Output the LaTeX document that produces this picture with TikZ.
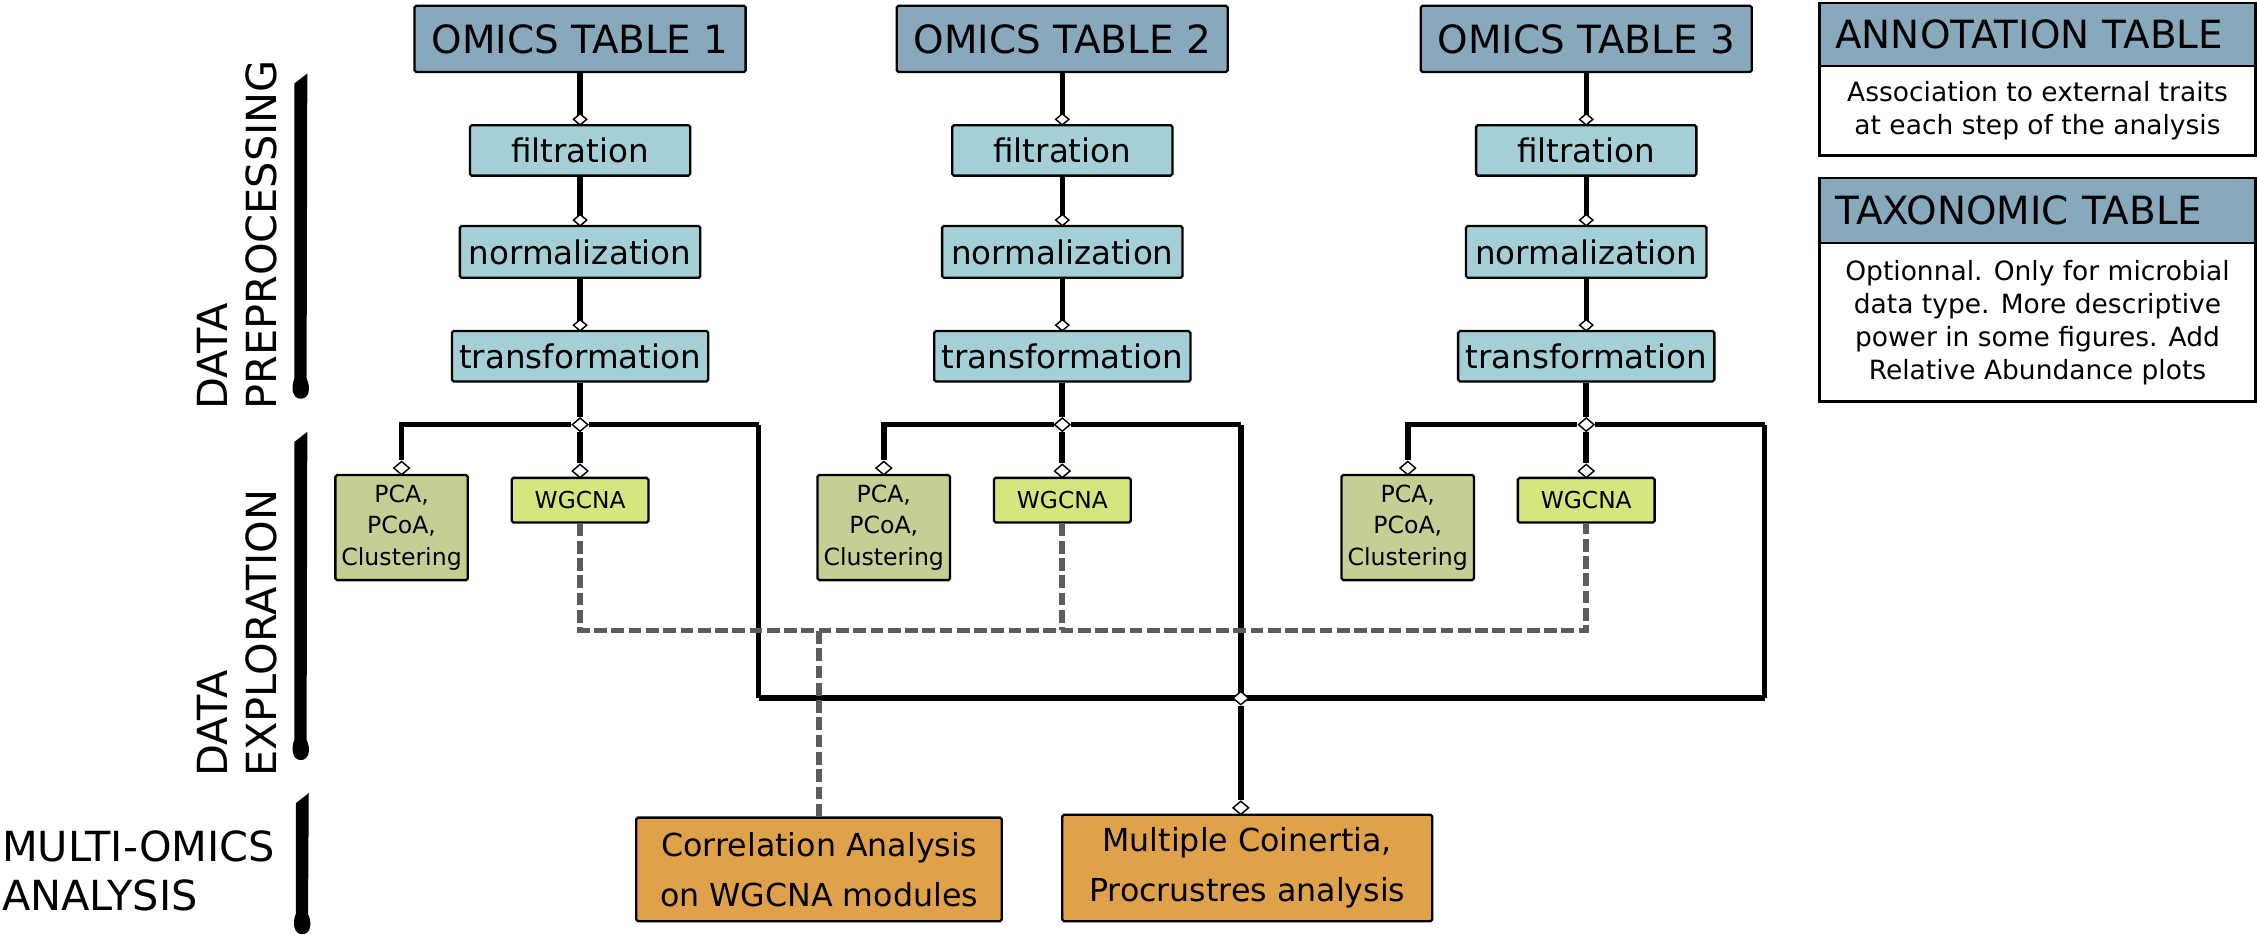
\documentclass[tikz,border=0pt]{standalone}
\usepackage{fontspec}
\setmainfont{DejaVu Sans}
\usetikzlibrary{shapes.geometric}
\definecolor{omicsc}{HTML}{87A9BB}
\definecolor{prepc}{HTML}{A5CFD6}
\definecolor{pcac}{HTML}{C4CF94}
\definecolor{wgc}{HTML}{D4E67E}
\definecolor{orc}{HTML}{DFA14A}
\definecolor{dashc}{HTML}{5C5C5C}
\newcommand\brushstroke[3]{%
  \fill ({#1-4.5},{#2+7}) -- ({#1+4.5},{#2}) -- ({#1+4},{#3-14})
    .. controls ({#1+7},{#3-8}) and ({#1+6},{#3}) .. ({#1},{#3})
    .. controls ({#1-6},{#3}) and ({#1-7},{#3-8}) .. ({#1-4.5},{#3-14}) -- cycle;}
\begin{document}
\begin{tikzpicture}[x=0.5pt,y=-0.5pt,
  box/.style={draw=black, line width=0.8pt, inner sep=0pt, align=center, rounded corners=0.6pt},
  omicsbox/.style={box, fill=omicsc, minimum width=115pt, minimum height=23pt, font=\fontsize{13.5}{16}\selectfont},
  prepbox/.style={box, fill=prepc, minimum height=17.5pt, font=\fontsize{11.3}{13}\selectfont},
  pcabox/.style={box, fill=pcac, minimum width=46pt, minimum height=36.5pt, font=\fontsize{8.2}{11}\selectfont},
  wgbox/.style={box, fill=wgc, minimum width=47.5pt, minimum height=15.5pt, font=\fontsize{8.1}{10}\selectfont},
  orbox/.style={box, fill=orc, minimum width=127pt, minimum height=36pt, font=\fontsize{11}{17.5}\selectfont},
  dmd/.style={diamond, draw=black, fill=white, line width=0.5pt, inner sep=0pt, minimum width=5.6pt, minimum height=4.8pt},
  sdmd/.style={dmd, minimum width=4.8pt, minimum height=4.1pt},
  link/.style={line width=1.9pt},
  tlink/.style={line width=2.1pt},
  dashlink/.style={draw=dashc, line width=2pt, dash pattern=on 4.4pt off 1.6pt},
  lab/.style={font=\fontsize{14.4}{17}\selectfont, align=left, inner sep=0pt},
  tabhead/.style={box, rounded corners=0pt, fill=omicsc, text width=140.5pt, inner xsep=5.5pt, align=left, font=\fontsize{13.5}{16}\selectfont},
  tabbody/.style={box, rounded corners=0pt, fill=white, minimum width=151.5pt, font=\fontsize{9.2}{11.5}\selectfont}]
\useasboundingbox (0,0) rectangle (1568,649.6);

% left labels and brush strokes
\node[lab, rotate=90, anchor=west] (lpre) at (165,285) {DATA\\PREPROCESSING};
\node[lab, rotate=90, anchor=west] (lexp) at (165,540) {DATA\\EXPLORATION};
\node[lab, anchor=west] (lmul) at (1,605) {MULTI-OMICS\\ANALYSIS};
\brushstroke{209}{51}{277}
\brushstroke{209}{300}{528}
\brushstroke{210}{551}{649}

% columns
\foreach \i/\cx in {1/403,2/738,3/1102}{
  \node[omicsbox] (o\i) at (\cx,27) {OMICS TABLE \i};
  \node[prepbox, minimum width=76.5pt] (f\i) at (\cx,104.5) {filtration};
  \node[prepbox, minimum width=83.5pt, minimum height=18pt] (n\i) at (\cx,175) {normalization};
  \node[prepbox, minimum width=89pt] (t\i) at (\cx,247.5) {transformation};
  \node[pcabox] (p\i) at ({\cx-124},366.5) {PCA,\\PCoA,\\Clustering};
  \node[wgbox] (w\i) at (\cx,347.5) {WGCNA};
  \coordinate (l\i) at ({\cx-124},295);
  \coordinate (r\i) at ({\cx+124},295);
  \coordinate (b\i) at ({\cx+124},485);
  \draw[link] (o\i) -- (f\i);
  \draw[link] (f\i) -- (n\i);
  \draw[link] (n\i) -- (t\i);
  \draw[link] (r\i) -- (b\i);
  \node[sdmd] (d1\i) at (\cx,82.9) {};
  \node[sdmd] (d2\i) at (\cx,152.9) {};
  \node[sdmd] (d3\i) at (\cx,225.9) {};
  \node[dmd] (j\i) at (\cx,295) {};
  \node[dmd] (dp\i) at ({\cx-124},325.2) {};
  \node[dmd] (dw\i) at (\cx,327.2) {};
  \draw[tlink] (t\i) -- (j\i);
  \draw[link] (j\i.west) -- (l\i) -- (dp\i);
  \draw[link] (j\i.east) -- (r\i);
  \draw[tlink] (j\i) -- (dw\i);
}

% bottom loop
\draw[link] (b1) -- (b3);
\node[dmd] (jb) at (b2) {};

% multi-omics boxes
\node[orbox] (corr) at (569,604) {Correlation Analysis\\on WGCNA modules};
\node[orbox, minimum width=128.5pt, minimum height=37pt] (mci) at (866.5,603) {Multiple Coinertia,\\Procrustres analysis};
\node[dmd] (dm) at (862,561.2) {};
\draw[link] (jb) -- (dm);

% dashed WGCNA links
\coordinate (dy) at (0,438);
\draw[dashlink] (w1.south) -- (w1.south |- dy) -- (w3.south |- dy) -- (w3.south);
\draw[dashlink] (w2.south) -- (w2.south |- dy);
\draw[dashlink] (corr.north) -- (corr.north |- dy);

% side tables
\node[tabbody, minimum height=31pt] (ab) at (1415.5,77) {Association to external traits\\at each step of the analysis};
\node[tabhead, minimum height=22pt] (ah) at (1415.5,24) {ANNOTATION TABLE};
\node[tabbody, minimum height=55pt] (tb) at (1415.5,224) {Optionnal. Only for microbial\\data type. More descriptive\\power in some figures. Add\\Relative Abundance plots};
\node[tabhead, minimum height=22.75pt] (th) at (1415.5,146.25) {TAXONOMIC TABLE};
\end{tikzpicture}
\end{document}
